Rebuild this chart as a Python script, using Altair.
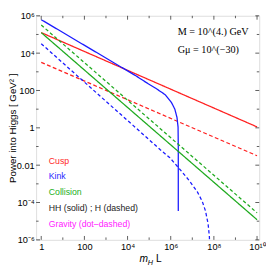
import altair as alt
import pandas as pd

# ---- data (values, not positions) ----
cusp_hh_L = [1, 1e10]
cusp_hh_P = [1.26e5, 1.12]
cusp_h_L = [1, 1e10]
cusp_h_P = [3.2e3, 0.032]
coll_hh_L = [1, 1e10]
coll_hh_P = [1.26e5, 1.2e-5]
coll_h_L = [1, 1e10]
coll_h_P = [3.2e5, 2.8e-5]
kink_hh_L = [1, 2.5e4, 6.9e4, 1.95e5, 5.5e5, 1.1e6, 1.55e6, 1.95e6, 2.19e6, 2.24e6, 2.24e6]
kink_hh_P = [6.2e5, 600, 280, 135, 60, 22, 10, 3.6, 1.1, 0.1, 3.5e-5]
kink_h_L = [1, 1.8e4, 3.2e5, 9.1e5, 2.6e6, 7.2e6, 1.7e7, 2.9e7, 4.1e7, 5.4e7, 6.2e7, 6.3e7]
kink_h_P = [3.2e4, 1.35, 0.069, 0.025, 6.2e-3, 1.5e-3, 3.8e-4, 1.15e-4, 3.5e-5, 7.1e-6, 1.45e-6, 6.3e-7]

x_label_vals = [1, 100, 1e4, 1e6, 1e8, 1e10]
x_label_text = ["1", "100", "10⁴", "10⁶", "10⁸", "10¹⁰"]
x_minor_vals = [10, 1e3, 1e5, 1e7, 1e9]
y_label_vals = [1e-6, 1e-4, 1e-2, 1, 100, 1e4, 1e6]
y_label_text = ["10⁻⁶", "10⁻⁴", "0.01", "1", "100", "10⁴", "10⁶"]
y_minor_vals = [1e-5, 1e-3, 0.1, 10, 1e3, 1e5]

legend_labels = ["Cusp", "Kink", "Collision", "HH (solid) ; H (dashed)", "Gravity (dot–dashed)"]
legend_colors = ["#ff2a2a", "#2a2aff", "#22b022", "#222222", "#ff22ff"]
info_lines = ["M = 10^(4.) GeV", "Gμ = 10^(−30)"]

series_names = ["Cusp HH", "Cusp H", "Kink HH", "Kink H", "Collision HH", "Collision H"]
series_colors = ["#ff2020", "#ff2020", "#1a1aff", "#1a1aff", "#1faa1f", "#1faa1f"]
series_dash = [[1, 0], [4, 2.5], [1, 0], [3.5, 2.5], [1, 0], [3.5, 2.5]]

rows = []
for name, Ls, Ps in [
    ("Cusp HH", cusp_hh_L, cusp_hh_P),
    ("Cusp H", cusp_h_L, cusp_h_P),
    ("Kink HH", kink_hh_L, kink_hh_P),
    ("Kink H", kink_h_L, kink_h_P),
    ("Collision HH", coll_hh_L, coll_hh_P),
    ("Collision H", coll_h_L, coll_h_P),
]:
    for i, (L, P) in enumerate(zip(Ls, Ps)):
        rows.append({"series": name, "L": L, "P": P, "i": i})
df = pd.DataFrame(rows)

W, H = 230, 231
FONT = "Liberation Sans"


def label_expr(vals, texts):
    import math
    expr = "''"
    for v, t in zip(vals, texts):
        e = round(math.log10(v))
        expr = f"abs(log(datum.value)/LN10 - ({e})) < 0.01 ? '{t}' : ({expr})"
    return expr


xscale = alt.Scale(type="log", domain=[0.58, 1.26e10], nice=False)
yscale = alt.Scale(type="log", domain=[1e-6, 1e6], nice=False)
xaxis = alt.Axis(values=x_label_vals, labelExpr=label_expr(x_label_vals, x_label_text),
                 ticks=False, domain=False, grid=False, title=None, labelFont=FONT,
                 labelFontSize=9.5, labelColor="black", labelPadding=2, labelFlush=False)
yaxis = alt.Axis(values=y_label_vals, labelExpr=label_expr(y_label_vals, y_label_text),
                 ticks=False, domain=False, grid=False, labelFont=FONT,
                 labelFontSize=9.5, labelColor="black", labelPadding=2, labelFlush=False,
                 title="Power into Higgs  [ GeV² ]", titleFont=FONT, titleFontSize=10,
                 titleFontWeight="normal", titleColor="black", titleAngle=-90,
                 titleX=-29, titleY=H / 2, titleAlign="center", titleBaseline="top")

lines = alt.Chart(df).mark_line(strokeWidth=1.3, clip=True).encode(
    x=alt.X("L:Q", scale=xscale, axis=xaxis),
    y=alt.Y("P:Q", scale=yscale, axis=yaxis),
    color=alt.Color("series:N", scale=alt.Scale(domain=series_names, range=series_colors), legend=None),
    strokeDash=alt.StrokeDash("series:N", scale=alt.Scale(domain=series_names, range=series_dash), legend=None),
    order="i:Q",
    detail="series:N",
)

layers = [lines]

# inward frame ticks
tick_color = "#333333"
for vals, length in [(x_label_vals, 4), (x_minor_vals, 2.5)]:
    tdf = pd.DataFrame({"v": vals})
    layers.append(alt.Chart(tdf).mark_rule(color=tick_color, strokeWidth=0.8).encode(
        x=alt.X("v:Q", scale=xscale, axis=xaxis), y=alt.value(H), y2=alt.value(H - length)))
    layers.append(alt.Chart(tdf).mark_rule(color=tick_color, strokeWidth=0.8).encode(
        x=alt.X("v:Q", scale=xscale, axis=xaxis), y=alt.value(0), y2=alt.value(length)))
for vals, length in [(y_label_vals, 4), (y_minor_vals, 2.5)]:
    tdf = pd.DataFrame({"v": vals})
    layers.append(alt.Chart(tdf).mark_rule(color=tick_color, strokeWidth=0.8).encode(
        y=alt.Y("v:Q", scale=yscale, axis=yaxis), x=alt.value(0), x2=alt.value(length)))
    layers.append(alt.Chart(tdf).mark_rule(color=tick_color, strokeWidth=0.8).encode(
        y=alt.Y("v:Q", scale=yscale, axis=yaxis), x=alt.value(W), x2=alt.value(W - length)))

# legend-like texts
for k, (lab, col) in enumerate(zip(legend_labels, legend_colors)):
    layers.append(alt.Chart(pd.DataFrame({"t": [lab]})).mark_text(
        align="left", baseline="alphabetic", font=FONT, fontSize=9, color=col).encode(
        text="t:N", x=alt.value(13), y=alt.value(152.5 + 16.25 * k)))

# info texts
for k, lab in enumerate(info_lines):
    layers.append(alt.Chart(pd.DataFrame({"t": [lab]})).mark_text(
        align="left", baseline="alphabetic", font="Liberation Serif", fontSize=10.5, color="black").encode(
        text="t:N", x=alt.value(146), y=alt.value(20 + 18 * k)))

# x title: m_H L
for txt, xx, yy, fs, style in [("m", 106.5, 254, 10.5, "italic"), ("H", 115, 256.5, 7.5, "italic"),
                               ("L", 123.5, 254, 10.5, "normal")]:
    layers.append(alt.Chart(pd.DataFrame({"t": [txt]})).mark_text(
        align="left", baseline="alphabetic", font=FONT, fontSize=fs, fontStyle=style, color="black").encode(
        text="t:N", x=alt.value(xx), y=alt.value(yy)))

chart = alt.layer(*layers).properties(
    width=W, height=H,
    autosize=alt.AutoSizeParams(type="none"),
    padding={"left": 29, "top": 4, "right": 7, "bottom": 26},
).configure_view(stroke="#222222", strokeWidth=1).configure(background="white")

chart.save("out.html", embed_options={"renderer": "svg", "actions": False})
